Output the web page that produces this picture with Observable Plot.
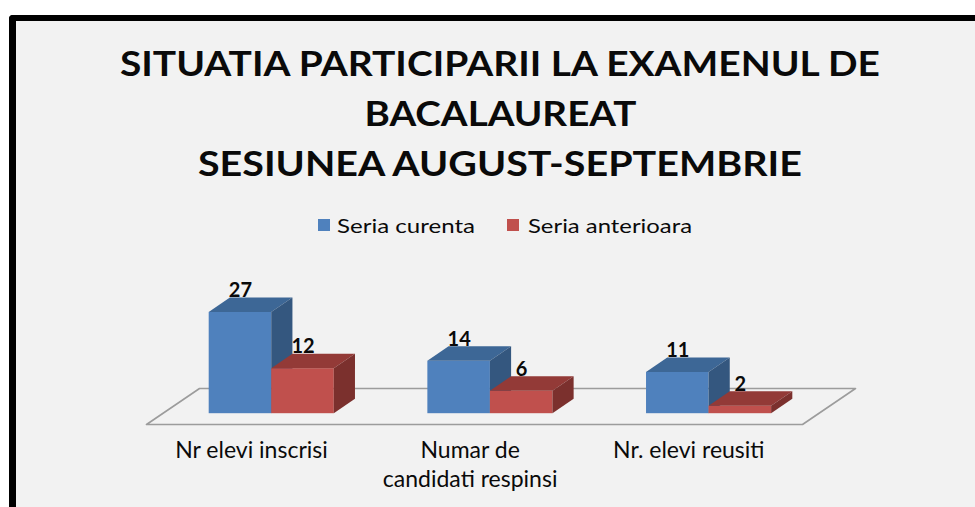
<!DOCTYPE html>
<html>
<head>
<meta charset="utf-8">
<script src="https://cdn.jsdelivr.net/npm/d3@7"></script>
<script src="https://cdn.jsdelivr.net/npm/@observablehq/plot@0.6"></script>
<style>
  html, body { margin: 0; padding: 0; }
  body { width: 975px; height: 507px; overflow: hidden; position: relative; background: #fff; font-family: Lato, "Open Sans", sans-serif; }
  #frame { position: absolute; left: 9px; top: 15px; width: 1000px; height: 600px; border-left: 7px solid #000; border-top: 6px solid #000; border-top-left-radius: 4px; background: #f2f2f2; }
  .tline { position: absolute; left: 0; width: 1000px; text-align: center; font-weight: 700; font-size: 35px; line-height: 50px; color: #0a0a0a; white-space: nowrap; }
  .tline span { display: inline-block; transform-origin: 50% 50%; }
  .leg { position: absolute; top: 212px; height: 26px; line-height: 26px; font-size: 20px; color: #0a0a0a; white-space: nowrap; }
  .leg span.t { display: inline-block; transform-origin: 0 50%; }
  .sw { position: absolute; top: 219px; width: 12px; height: 12px; }
  #chart { position: absolute; left: 0; top: 0; }
</style>
</head>
<body>
<div id="frame"></div>
<div id="titles"></div>
<div id="legend"></div>
<div id="chart"></div>
<script>
// ---- data ----
const titleLines = ["SITUATIA PARTICIPARII LA EXAMENUL DE", "BACALAUREAT", "SESIUNEA AUGUST-SEPTEMBRIE"];
const categories = ["Nr elevi inscrisi", "Numar de\ncandidati respinsi", "Nr. elevi reusiti"];
const seriesNames = ["Seria curenta", "Seria anterioara"];
const seriaCurenta = [27, 14, 11];
const seriaAnterioara = [12, 6, 2];

// ---- styles ----
const faceColors = [
  {front: "#4f81bd", top: "#3d6796", side: "#34577f"},
  {front: "#c0504d", top: "#933a37", side: "#7b302d"}
];

// ---- title ----
const titleCenters = [62, 112, 162];
const titleWidths = [760, 272, 604];
const titles = document.getElementById("titles");
titleLines.forEach((t, i) => {
  const d = document.createElement("div");
  d.className = "tline";
  d.style.top = (titleCenters[i] - 25) + "px";
  const s = document.createElement("span");
  s.textContent = t;
  d.appendChild(s);
  titles.appendChild(d);
  const w = s.getBoundingClientRect().width;
  s.style.transform = `scaleX(${titleWidths[i] / w})`;
});

// ---- legend ----
const legPos = [{sw: 318, tx: 337, tw: 138}, {sw: 507, tx: 528, tw: 164}];
const legend = document.getElementById("legend");
seriesNames.forEach((n, i) => {
  const sw = document.createElement("div");
  sw.className = "sw";
  sw.style.left = legPos[i].sw + "px";
  sw.style.background = faceColors[i].front;
  legend.appendChild(sw);
  const d = document.createElement("div");
  d.className = "leg";
  d.style.left = legPos[i].tx + "px";
  const s = document.createElement("span");
  s.className = "t";
  s.textContent = n;
  d.appendChild(s);
  legend.appendChild(d);
  const w = s.getBoundingClientRect().width;
  s.style.transform = `scaleX(${legPos[i].tw / w})`;
});

// ---- 3D geometry (in data units) ----
const FX = 53 / (656 / 3);  // floor depth along x
const FY = 36 / 3.75;        // floor depth along y
const F0 = 0.3, F1 = 0.7;    // bar front / back depth
const BW = 0.286;            // bar width

const bars = [];
seriesNames.forEach((s, si) => {
  const vals = si === 0 ? seriaCurenta : seriaAnterioara;
  categories.forEach((c, ci) => {
    const xl = ci + 0.5 - BW + si * BW;
    bars.push({series: s, si, ci, v: vals[ci], xl, xr: xl + BW, id: si + "-" + ci});
  });
});

const topPts = bars.flatMap(b => [F0, F1].map(f => ({si: b.si, id: b.id, y: b.v + f * FY, x1: b.xl + f * FX, x2: b.xr + f * FX})));
const sidePts = bars.flatMap(b => [F0, F1].map(f => ({si: b.si, id: b.id, x: b.xr + f * FX, y1: f * FY, y2: b.v + f * FY})));
const floor = [[0, 0], [categories.length, 0], [categories.length + FX, FY], [FX, FY], [0, 0]].map(([x, y]) => ({x, y}));

const marks = [
  Plot.line(floor, {x: "x", y: "y", stroke: "#9c9c9c", strokeWidth: 1.6, fill: "none"})
];
seriesNames.forEach((s, si) => {
  const c = faceColors[si];
  marks.push(
    Plot.rect(bars.filter(b => b.si === si), {x1: b => b.xl + F0 * FX, x2: b => b.xr + F0 * FX, y1: F0 * FY, y2: b => b.v + F0 * FY, fill: c.front}),
    Plot.area(topPts.filter(p => p.si === si), {y1: "y", x1: "x1", x2: "x2", z: "id", fill: c.top}),
    Plot.area(sidePts.filter(p => p.si === si), {x1: "x", y1: "y1", y2: "y2", z: "id", fill: c.side})
  );
});
marks.push(
  Plot.text(bars, {x: b => (b.xl + b.xr) / 2 + F0 * FX, y: b => b.v + F0 * FY, text: b => String(b.v), dy: -22, lineAnchor: "middle", fontWeight: "bold", fontSize: 20, fill: "#0a0a0a"}),
  Plot.text(categories, {x: (d, i) => i + 0.48, y: () => 0, text: d => d, dy: 13, lineAnchor: "top", lineHeight: 1.26, fontSize: 23, fill: "#0a0a0a"})
);

const chart = Plot.plot({
  width: 975,
  height: 507,
  marginLeft: 146,
  marginRight: 173,
  marginTop: 274,
  marginBottom: 83,
  x: {domain: [0, 3], axis: null},
  y: {domain: [0, 40], axis: null},
  style: {background: "transparent", fontFamily: "Lato, 'Open Sans', sans-serif", overflow: "visible", color: "#0a0a0a"},
  marks
});
document.getElementById("chart").appendChild(chart);
</script>
</body>
</html>
